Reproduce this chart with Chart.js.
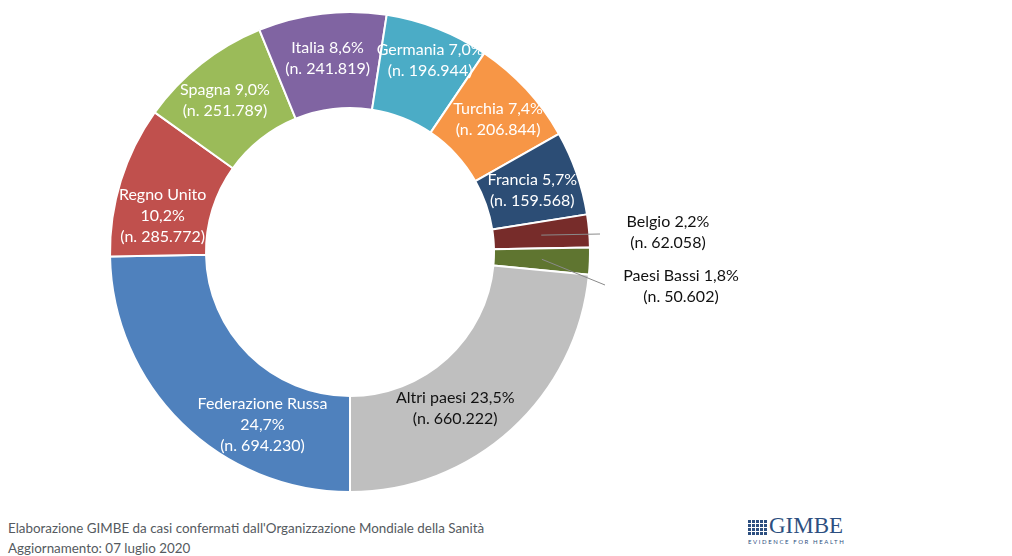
<!DOCTYPE html>
<html lang="it">
<head>
<meta charset="utf-8">
<title>Casi confermati per paese</title>
<script src="https://cdn.jsdelivr.net/npm/chart.js@4/dist/chart.umd.min.js"></script>
<style>
  html, body { margin:0; padding:0; background:#fff; }
  body { width:1012px; height:556px; position:relative; overflow:hidden; font-family:Lato, "Open Sans", sans-serif; }
  #wrap { position:absolute; left:0; top:0; width:780px; height:504px; }
  .note { position:absolute; left:8px; color:#555a60; font-size:13.4px; line-height:20px; }
  #logo { position:absolute; left:748px; top:517px; width:96px; height:30px; }
  #logo .icon { position:absolute; left:0; top:2px; width:19px; height:16px; background:#2d4f80;
    background-image: repeating-linear-gradient(90deg, transparent 0 3px, #fff 3px 4px), repeating-linear-gradient(0deg, transparent 0 3px, #fff 3px 4px); }
  #logo .name { position:absolute; left:21px; top:-4px; font-family:"Liberation Serif", "DejaVu Serif", serif; font-size:23px; color:#2d4f80; }
  #logo .tag { position:absolute; left:0; top:21px; font-size:6px; color:#2d4f80; letter-spacing:1.6px; white-space:nowrap; }
</style>
</head>
<body>
<div id="wrap"><canvas id="doughnutChart"></canvas></div>
<div class="note" style="top:518px">Elaborazione GIMBE da casi confermati dall'Organizzazione Mondiale della Sanità</div>
<div class="note" style="top:538px">Aggiornamento: 07 luglio 2020</div>
<div id="logo"><div class="icon"></div><div class="name">GIMBE</div><div class="tag">EVIDENCE FOR HEALTH</div></div>

<script>
// ===== Data =====
const countries = ['Federazione Russa','Regno Unito','Spagna','Italia','Germania','Turchia','Francia','Belgio','Paesi Bassi','Altri paesi'];
const cases = [694230, 285772, 251789, 241819, 196944, 206844, 159568, 62058, 50602, 660222];
const percents = ['24,7%','10,2%','9,0%','8,6%','7,0%','7,4%','5,7%','2,2%','1,8%','23,5%'];
const casesText = ['694.230','285.772','251.789','241.819','196.944','206.844','159.568','62.058','50.602','660.222'];

const colors = ['#4f81bd','#c0504d','#9bbb59','#8064a2','#4bacc6','#f79646','#2c4d75','#772c2a','#5f7530','#bfbfbf'];

// label layout: line split, nudge from arc centre, text colour, optional callout
const threeLines = (n,p,c)=>[n, p, '(n. '+c+')'];
const twoLines = (n,p,c)=>[n+' '+p, '(n. '+c+')'];
const labelStyle = [
  { lines:threeLines, dx:47, dy:36, color:'#fff' },
  { lines:threeLines, dx:-4, dy:21, color:'#fff' },
  { lines:twoLines, dx:-6, dy:-1, color:'#fff' },
  { lines:twoLines, dx:0, dy:-3, color:'#fff' },
  { lines:twoLines, dx:10, dy:-13, color:'#fff' },
  { lines:twoLines, dx:7, dy:-2, color:'#fff' },
  { lines:twoLines, dx:1, dy:2, color:'#fff' },
  { lines:twoLines, color:'#111', callout:{ x:600, y:234, tx:668, ty:222 } },
  { lines:twoLines, color:'#111', callout:{ x:605, y:285, tx:681, ty:276 } },
  { lines:twoLines, dx:-24, dy:14, color:'#111' }
];

// ===== Slice labels =====
const sliceLabels = {
  id:'sliceLabels',
  afterDatasetsDraw(chart){
    const ctx = chart.ctx;
    const arcs = chart.getDatasetMeta(0).data;
    ctx.save();
    ctx.font = '16px Lato, "Open Sans", sans-serif';
    ctx.textAlign = 'center';
    ctx.textBaseline = 'middle';
    arcs.forEach(function(arc, i){
      const st = labelStyle[i];
      const p = arc.getCenterPoint();
      const lines = st.lines(countries[i], percents[i], casesText[i]);
      let x, y;
      if(st.callout){
        ctx.strokeStyle = '#8a8a8a';
        ctx.lineWidth = 1;
        ctx.beginPath();
        ctx.moveTo(p.x, p.y);
        ctx.lineTo(st.callout.x, st.callout.y);
        ctx.stroke();
        x = st.callout.tx; y = st.callout.ty;
      } else {
        x = p.x + st.dx;
        y = p.y + st.dy - (lines.length-1)*10.5;
      }
      ctx.fillStyle = st.color;
      lines.forEach(function(t, k){ ctx.fillText(t, x, y + k*21); });
    });
    ctx.restore();
  }
};

new Chart(document.getElementById('doughnutChart'), {
  type:'doughnut',
  data:{
    labels: countries,
    datasets:[{ data: cases, backgroundColor: colors, borderColor:'#fff', borderWidth:2 }]
  },
  options:{
    responsive:true,
    maintainAspectRatio:false,
    animation:false,
    rotation:180,
    radius:240,
    cutout:'60%',
    layout:{ padding:{ left:12, right:92, top:12, bottom:12 } },
    plugins:{ legend:{ display:false }, tooltip:{ enabled:false } }
  },
  plugins:[sliceLabels]
});
</script>
</body>
</html>
